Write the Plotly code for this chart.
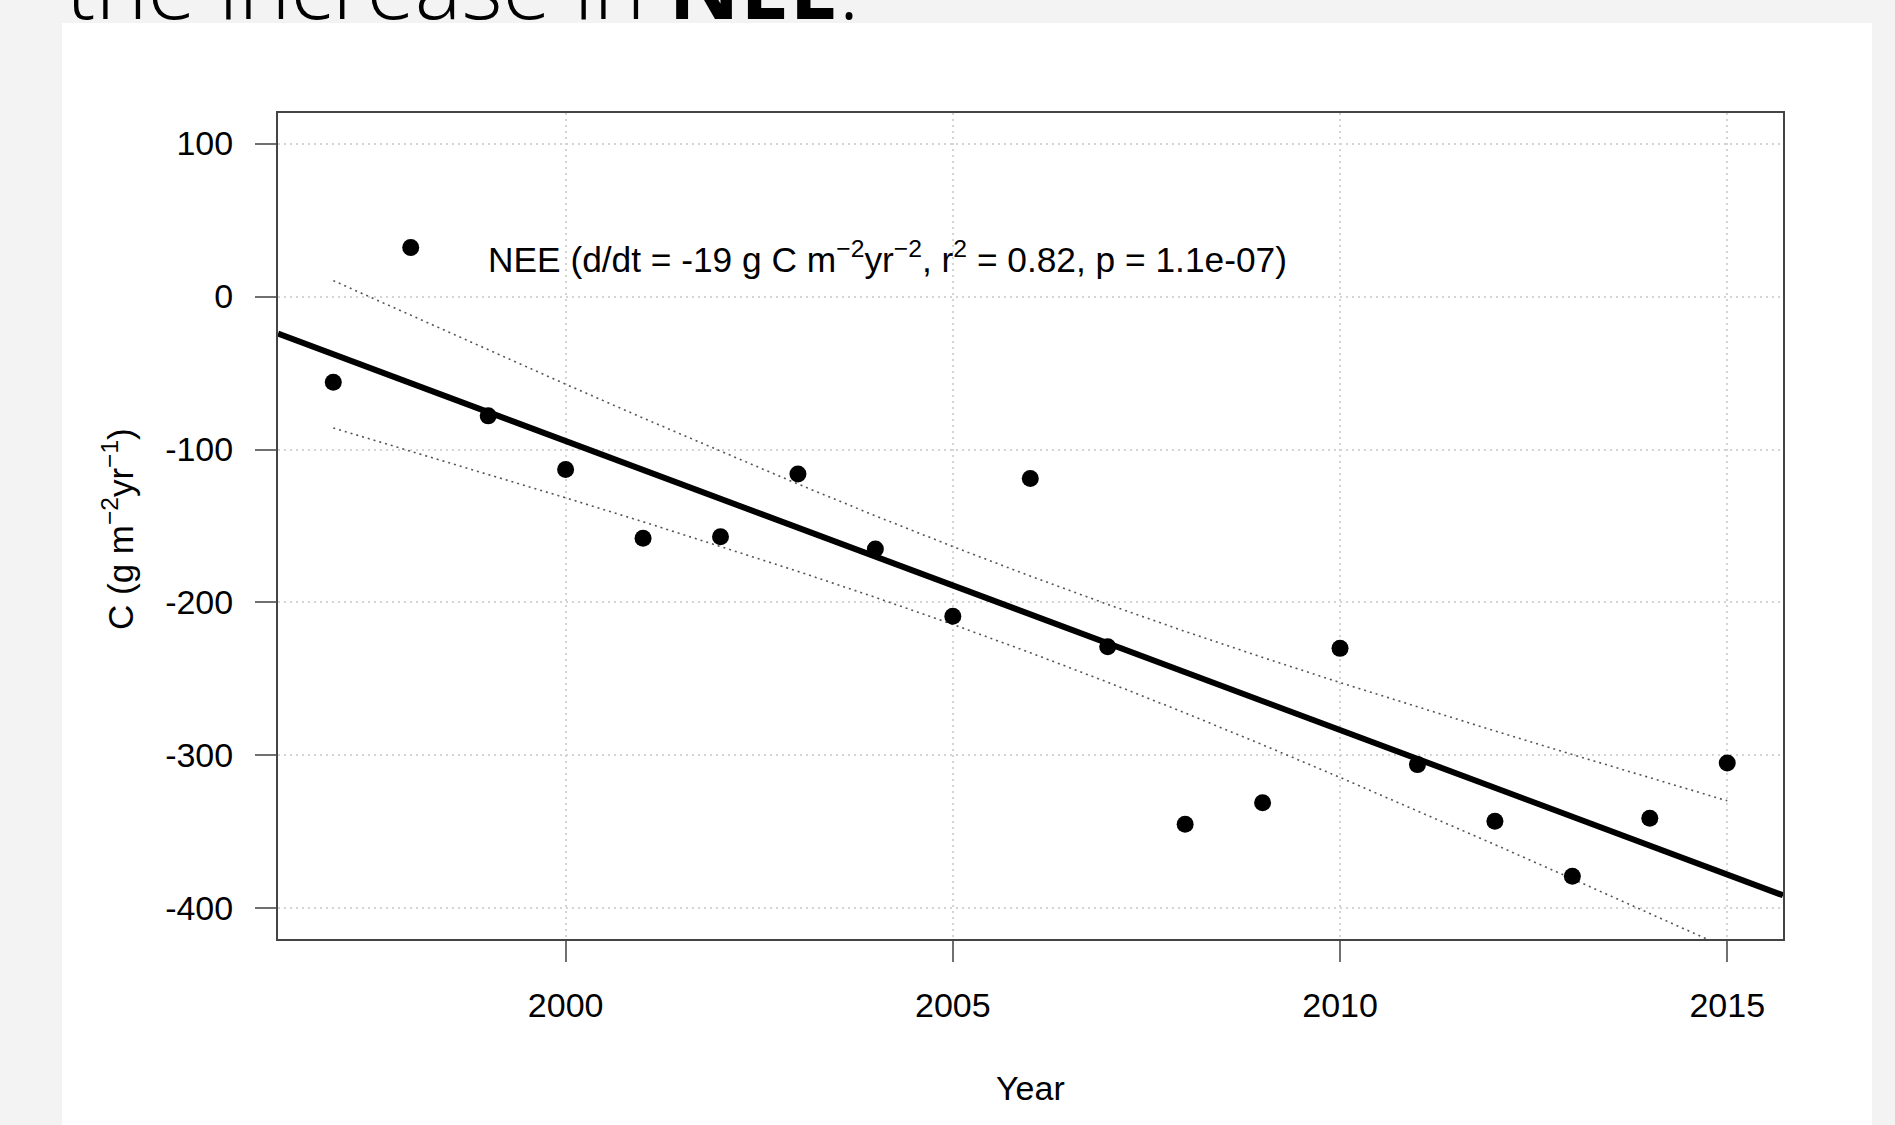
import numpy as np
import plotly.graph_objects as go

# ---------------- data ----------------
years = [1997, 1998, 1999, 2000, 2001, 2002, 2003, 2004, 2005, 2006,
         2007, 2008, 2009, 2010, 2011, 2012, 2013, 2014, 2015]
nee = [-56, 32, -78, -113, -158, -157, -116, -165, -209, -119,
       -229, -345, -331, -230, -306, -343, -379, -341, -305]

x_tickvals = [2000, 2005, 2010, 2015]
x_ticktext = ["2000", "2005", "2010", "2015"]
y_tickvals = [100, 0, -100, -200, -300, -400]
y_ticktext = ["100", "0", "-100", "-200", "-300", "-400"]

x_range = [1996.286, 2015.72]
y_range = [-420, 120]

legend_label = ("NEE (d/dt = -19 g C m<sup>−2</sup>yr<sup>−2</sup>, "
                "r<sup>2</sup> = 0.82, p = 1.1e-07)")
y_title = "C (g m<sup>−2</sup>yr<sup>−1</sup>)"
x_title = "Year"
page_title = "the increase in <b>NEE</b>."

# ---------------- linear fit + 95% confidence band ----------------
xa = np.array(years, dtype=float)
ya = np.array(nee, dtype=float)
slope, intercept = np.polyfit(xa, ya, 1)
fit = intercept + slope * xa
n = len(xa)
s = np.sqrt(np.sum((ya - fit) ** 2) / (n - 2))
sxx = np.sum((xa - xa.mean()) ** 2)
t975 = 2.109816  # t quantile, df = 17
half = t975 * s * np.sqrt(1.0 / n + (xa - xa.mean()) ** 2 / sxx)
upper = fit + half
lower = fit - half
line_x = np.array(x_range)
line_y = intercept + slope * line_x

# ---------------- figure geometry ----------------
W, H = 1895, 1125
L, R, T, B = 278, 112, 113, 186
pw = W - L - R
ph = H - T - B


def px(xp):
    return (xp - L) / pw


def py(yp):
    return (H - B - yp) / ph


FONT = "Liberation Sans, Arial, Helvetica, sans-serif"

fig = go.Figure()

fig.add_trace(go.Scatter(x=years, y=upper, mode="lines",
                         line=dict(color="#555555", width=1.6, dash="2px,4px"),
                         hoverinfo="skip", showlegend=False))
fig.add_trace(go.Scatter(x=years, y=lower, mode="lines",
                         line=dict(color="#555555", width=1.6, dash="2px,4px"),
                         hoverinfo="skip", showlegend=False))
fig.add_trace(go.Scatter(x=line_x, y=line_y, mode="lines",
                         line=dict(color="black", width=6),
                         hoverinfo="skip", showlegend=False))
fig.add_trace(go.Scatter(x=years, y=nee, mode="markers",
                         marker=dict(color="black", size=17),
                         cliponaxis=False, showlegend=False, name="NEE"))

# white card behind the chart
fig.add_shape(type="rect", xref="paper", yref="paper", layer="below",
              x0=px(62), x1=px(1872), y0=py(1125), y1=py(23),
              fillcolor="white", line=dict(width=0))

annotations = [
    dict(text=legend_label, xref="paper", yref="paper", x=px(486), y=py(257),
         xanchor="left", yanchor="middle", showarrow=False,
         font=dict(family=FONT, size=35.3, color="black")),
    dict(text=y_title, xref="paper", yref="paper", x=px(118), y=py(529),
         xanchor="center", yanchor="middle", textangle=-90, showarrow=False,
         font=dict(family=FONT, size=35, color="black")),
    dict(text=x_title, xref="paper", yref="paper", x=0.5, y=py(1088),
         xanchor="center", yanchor="middle", showarrow=False,
         font=dict(family=FONT, size=34, color="black")),
    dict(text=page_title, xref="paper", yref="paper", x=px(64), y=py(47),
         xanchor="left", yanchor="bottom", showarrow=False,
         font=dict(family="Open Sans, sans-serif", size=88, color="black", weight=300)),
]

axis_common = dict(
    showline=True, linecolor="#444444", linewidth=2, mirror=True,
    ticks="outside", ticklen=21, tickwidth=2, tickcolor="#707070",
    showgrid=True, gridcolor="#d4d4d4", gridwidth=1.6, griddash="2px,4px",
    zeroline=False, tickfont=dict(family=FONT, size=34, color="black"),
)

fig.update_layout(
    width=W, height=H,
    margin=dict(l=L, r=R, t=T, b=B, autoexpand=False),
    paper_bgcolor="#f3f3f3", plot_bgcolor="white",
    showlegend=False,
    annotations=annotations,
    xaxis=dict(range=x_range, tickmode="array", tickvals=x_tickvals,
               ticktext=x_ticktext, ticklabelstandoff=14, **axis_common),
    yaxis=dict(range=y_range, tickmode="array", tickvals=y_tickvals,
               ticktext=y_ticktext, ticklabelstandoff=15, **axis_common),
)

fig.write_html("out.html")
